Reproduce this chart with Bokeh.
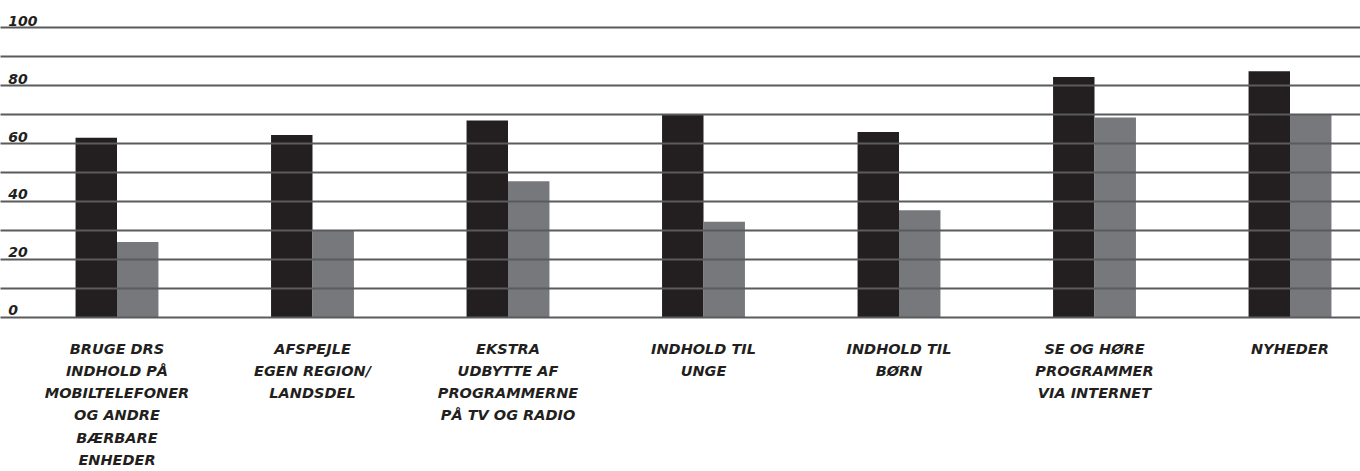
from bokeh.plotting import figure
from bokeh.models import Range1d, FixedTicker, Grid, ColumnDataSource
from bokeh.transform import dodge
from bokeh.core.properties import value
from bokeh.embed import file_html
from bokeh.resources import INLINE

categories = [
    "BRUGE DRS\nINDHOLD PÅ\nMOBILTELEFONER\nOG ANDRE\nBÆRBARE\nENHEDER",
    "AFSPEJLE\nEGEN REGION/\nLANDSDEL",
    "EKSTRA\nUDBYTTE AF\nPROGRAMMERNE\nPÅ TV OG RADIO",
    "INDHOLD TIL\nUNGE",
    "INDHOLD TIL\nBØRN",
    "SE OG HØRE\nPROGRAMMER\nVIA INTERNET",
    "NYHEDER",
]
series_a = [62, 63, 68, 70, 64, 83, 85]
series_b = [26, 30, 47, 33, 37, 69, 70]
y_ticks = [0, 20, 40, 60, 80, 100]
grid_ticks = [0, 10, 20, 30, 40, 50, 60, 70, 80, 90, 100]

FONT = "DejaVu Sans"
idx = list(range(len(categories)))
src = ColumnDataSource(dict(x=idx, a=series_a, b=series_b, cat=categories,
                            y0=[0] * len(idx)))

X0 = -0.5959
p = figure(width=1360, height=471, output_backend="svg", toolbar_location=None,
           x_range=Range1d(X0, 6.3606), y_range=Range1d(-53.3, 106),
           x_axis_location=None, y_axis_location=None,
           min_border_left=0, min_border_right=0,
           min_border_top=10, min_border_bottom=0)
p.outline_line_color = None
for g in p.grid:
    g.visible = False

bw = 0.212
p.vbar(x=dodge("x", -bw / 2, range=p.x_range), top="a", bottom=0, width=bw,
       source=src, fill_color="#231f20", line_color=None)
p.vbar(x=dodge("x", bw / 2, range=p.x_range), top="b", bottom=0, width=bw,
       source=src, fill_color="#77787b", line_color=None)

grid = Grid(dimension=1, ticker=FixedTicker(ticks=grid_ticks),
            grid_line_color="#5a5b5d", grid_line_width=1.8, level="overlay")
p.add_layout(grid)

p.text(x=[X0 + 0.04] * len(y_ticks), y=y_ticks, text=[str(t) for t in y_ticks],
       text_font=value(FONT), text_font_style="bold italic", text_font_size="14px",
       text_color="#231f20", text_align="left", text_baseline="bottom", y_offset=-2)

p.text(x="x", y="y0", text="cat", source=src,
       text_font=value(FONT), text_font_style="bold italic", text_font_size="14.5px",
       text_color="#231f20", text_align="center", text_baseline="top",
       text_line_height=1.38, y_offset=24)

open("out.html", "w").write(file_html(p, INLINE))
